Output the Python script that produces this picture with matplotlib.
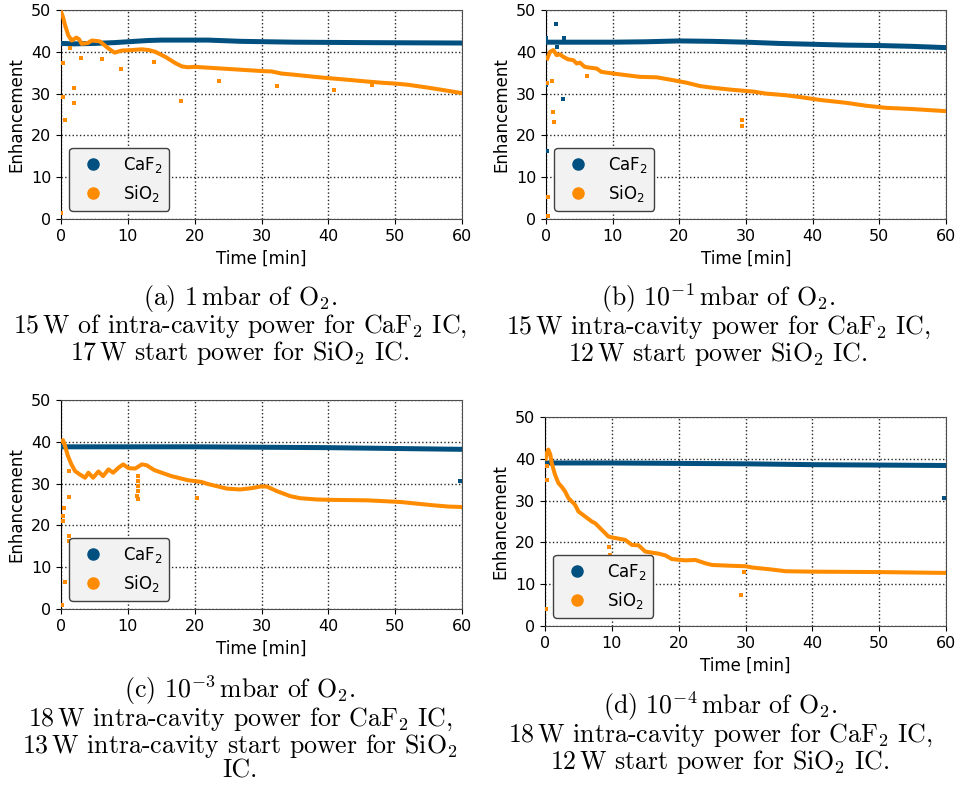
import matplotlib
matplotlib.use("Agg")
import matplotlib.pyplot as plt
from matplotlib.lines import Line2D

W, H = 958, 802
CAF2_COLOR = "#02507f"
SIO2_COLOR = "#ff8c00"

# --- (a) 1 mbar ---
a_caf2_t = [0, 2, 5, 8, 10, 13, 15, 18, 22, 27, 35, 45, 60]
a_caf2_y = [42.0, 41.9, 42.0, 42.2, 42.4, 42.7, 42.8, 42.8, 42.8, 42.5, 42.3, 42.2, 42.1]
a_caf2_out_t = []
a_caf2_out_y = []
a_sio2_t = [0.05, 0.3, 0.6, 1.1, 1.6, 2.3, 2.7, 3.1, 4.0, 4.6, 5.8, 7.1, 8.0, 9.1, 10.5,
            12.1, 13.2, 14.1, 15.6, 17.1, 18.1, 19.0, 20.0, 22.0, 25.0, 28.0, 30.0,
            31.5, 33.0, 35.0, 38.0, 40.0, 43.0, 45.0, 48.0, 50.0, 52.0, 55.0, 57.0, 60.0]
a_sio2_y = [49.4, 48.3, 46.4, 43.9, 42.7, 43.4, 43.0, 41.9, 42.1, 42.7, 42.5, 40.8, 39.8, 40.3, 40.4,
            40.6, 40.4, 40.0, 38.8, 37.3, 36.5, 36.3, 36.4, 36.2, 35.9, 35.6, 35.4,
            35.3, 34.8, 34.5, 34.0, 33.7, 33.3, 33.0, 32.6, 32.4, 32.1, 31.4, 30.9, 30.1]
a_sio2_out_t = [0.0, 0.25, 0.3, 0.55, 2.0, 2.0, 1.4, 3.0, 6.2, 9.0, 13.9, 18.0, 23.6, 32.3, 40.9, 46.5]
a_sio2_out_y = [1.4, 37.4, 29.3, 23.8, 31.3, 27.7, 40.8, 38.6, 38.3, 36.0, 37.5, 28.3, 32.9, 31.8, 30.8, 32.1]

# --- (b) 1e-1 mbar ---
b_caf2_t = [0, 5, 10, 15, 20, 25, 30, 35, 40, 45, 50, 55, 60]
b_caf2_y = [42.3, 42.3, 42.3, 42.4, 42.6, 42.5, 42.3, 42.0, 41.8, 41.6, 41.5, 41.3, 41.0]
b_caf2_out_t = [0.0, 0.0, 0.15, 1.55, 1.6, 2.55, 2.65]
b_caf2_out_y = [43.2, 32.1, 16.3, 46.7, 41.2, 28.8, 43.4]
b_sio2_t = [0.2, 0.6, 1.1, 1.6, 2.1, 2.6, 3.3, 4.1, 4.6, 5.1, 5.8, 6.6, 7.6, 8.3, 10.1,
            12.1, 14.1, 16.6, 19.1, 21.1, 23.1, 25.0, 28.0, 31.0, 33.0, 36.0, 38.0,
            41.0, 45.0, 48.0, 51.0, 55.0, 60.0]
b_sio2_y = [38.4, 40.0, 40.4, 39.2, 39.4, 38.8, 38.2, 38.0, 37.2, 37.4, 36.4, 36.2, 36.0, 35.2, 34.8,
            34.4, 34.0, 33.9, 33.2, 32.6, 31.8, 31.4, 30.9, 30.5, 30.0, 29.6, 29.2,
            28.5, 27.8, 27.1, 26.6, 26.3, 25.8]
b_sio2_out_t = [0.15, 0.25, 0.2, 0.35, 0.9, 1.05, 1.25, 6.1, 29.4, 29.4]
b_sio2_out_y = [32.6, 5.3, 0.8, 0.7, 33.0, 25.5, 23.2, 34.2, 23.7, 22.2]

# --- (c) 1e-3 mbar ---
c_caf2_t = [0, 10, 20, 30, 40, 50, 60]
c_caf2_y = [38.8, 38.8, 38.8, 38.7, 38.6, 38.4, 38.2]
c_caf2_out_t = [59.7]
c_caf2_out_y = [30.6]
c_sio2_t = [0.1, 0.3, 0.6, 1.0, 1.5, 2.1, 2.8, 3.6, 4.1, 4.8, 5.6, 6.3, 7.1, 7.8, 8.6,
            9.3, 10.1, 11.1, 12.1, 12.8, 14.0, 16.5, 19.0, 21.0, 22.0, 24.8, 26.8,
            28.5, 29.8, 30.8, 32.3, 34.3, 35.8, 38.3, 40.8, 45.8, 48.3, 50.8, 53.3,
            55.8, 58.0, 60.0]
c_sio2_y = [40.2, 40.4, 39.0, 36.8, 34.8, 33.0, 32.2, 31.4, 32.6, 31.4, 32.9, 31.8, 33.4, 32.6, 33.8,
            34.6, 33.7, 33.6, 34.6, 34.4, 33.2, 31.8, 30.8, 30.4, 29.9, 28.8, 28.6,
            28.9, 29.3, 29.3, 28.2, 27.0, 26.5, 26.2, 26.1, 26.0, 25.8, 25.6, 25.2,
            24.8, 24.5, 24.4]
c_sio2_out_t = [0.15, 0.25, 0.3, 0.4, 0.55, 1.15, 1.15, 1.2, 1.15,
                11.5, 11.5, 11.5, 11.5, 11.4, 11.5, 20.3]
c_sio2_out_y = [1.0, 22.2, 21.0, 24.2, 6.4, 26.8, 17.4, 16.2, 33.0,
                31.8, 30.6, 29.4, 28.2, 27.0, 26.2, 26.6]

# --- (d) 1e-4 mbar ---
d_caf2_t = [0, 10, 20, 30, 40, 50, 60]
d_caf2_y = [39.0, 39.0, 38.9, 38.8, 38.6, 38.5, 38.4]
d_caf2_out_t = [59.7]
d_caf2_out_y = [30.7]
d_sio2_t = [0.1, 0.3, 0.5, 0.8, 1.0, 1.5, 2.0, 2.5, 3.0, 3.5, 4.5, 5.0, 6.0, 7.0, 7.5,
            8.5, 9.5, 10.0, 11.0, 12.0, 13.0, 14.0, 15.0, 17.0, 18.0, 19.0, 21.0,
            22.5, 24.0, 25.0, 28.0, 30.0, 31.0, 34.0, 36.0, 40.0, 50.0, 60.0]
d_sio2_y = [40.0, 41.5, 42.2, 41.0, 39.0, 36.2, 34.2, 33.3, 32.2, 30.6, 29.0, 27.4, 26.2, 25.0, 24.6,
            23.0, 21.4, 21.2, 20.9, 20.6, 19.4, 19.3, 17.8, 17.3, 16.9, 16.0, 15.7,
            15.8, 15.0, 14.6, 14.4, 14.3, 14.0, 13.5, 13.1, 13.0, 12.9, 12.7]
d_sio2_out_t = [0.15, 0.25, 0.25, 9.6, 9.7, 29.3, 29.8]
d_sio2_out_y = [4.1, 35.0, 38.2, 18.8, 17.0, 7.4, 13.0]

captions = {
    "a": ["(a) 1$\\,$mbar of $\\mathrm{O}_2$.",
          "15$\\,$W of intra-cavity power for $\\mathrm{CaF}_2$ IC,",
          "17$\\,$W start power for $\\mathrm{SiO}_2$ IC."],
    "b": ["(b) $10^{-1}\\,$mbar of $\\mathrm{O}_2$.",
          "15$\\,$W intra-cavity power for $\\mathrm{CaF}_2$ IC,",
          "12$\\,$W start power $\\mathrm{SiO}_2$ IC."],
    "c": ["(c) $10^{-3}\\,$mbar of $\\mathrm{O}_2$.",
          "18$\\,$W intra-cavity power for $\\mathrm{CaF}_2$ IC,",
          "13$\\,$W intra-cavity start power for $\\mathrm{SiO}_2$",
          "IC."],
    "d": ["(d) $10^{-4}\\,$mbar of $\\mathrm{O}_2$.",
          "18$\\,$W intra-cavity power for $\\mathrm{CaF}_2$ IC,",
          "12$\\,$W start power for $\\mathrm{SiO}_2$ IC."],
}


def px_rect(left, top, right, bottom):
    return [left / W, 1 - bottom / H, (right - left) / W, (bottom - top) / H]


def draw_panel(fig, rect, caf2, caf2_out, sio2, sio2_out):
    ax = fig.add_axes(rect)
    ax.plot(*caf2, color=CAF2_COLOR, lw=3.6, zorder=3)
    ax.scatter(*caf2_out, color=CAF2_COLOR, s=6, marker="s", lw=0, zorder=3)
    ax.plot(*sio2, color=SIO2_COLOR, lw=2.9, zorder=4)
    ax.scatter(*sio2_out, color=SIO2_COLOR, s=6, marker="s", lw=0, zorder=4)

    ax.set_xlim(0, 60)
    ax.set_ylim(0, 50)
    ax.set_xticks(range(0, 61, 10))
    ax.set_yticks(range(0, 51, 10))
    ax.tick_params(labelsize=11.5)
    ax.grid(True, color="0.15", linestyle=":", linewidth=1)
    for sp in ax.spines.values():
        sp.set_color("0.3")
    ax.spines["left"].set_color("k")
    ax.set_xlabel("Time [min]", fontsize=12)
    ax.set_ylabel("Enhancement", fontsize=12)

    handles = [
        Line2D([], [], marker="o", ls="", color=CAF2_COLOR, markersize=8, label="CaF$_2$"),
        Line2D([], [], marker="o", ls="", color=SIO2_COLOR, markersize=8, label="SiO$_2$"),
    ]
    leg = ax.legend(handles=handles, loc="lower left", fontsize=12, framealpha=1,
                    facecolor="#f2f2f2", edgecolor="0.25")
    leg.set_zorder(10)
    return ax


def caption(fig, x, y_mid, lines):
    # one multi-line text per caption, centred on y_mid
    fig.text(x / W, 1 - y_mid / H, "\n".join(lines), ha="center", va="center",
             multialignment="center", linespacing=0.95,
             fontsize=18.6, family="cmr10", math_fontfamily="cm")


def main():
    fig = plt.figure(figsize=(W / 100, H / 100), dpi=100)

    draw_panel(fig, px_rect(61, 10, 462, 219),
               (a_caf2_t, a_caf2_y), (a_caf2_out_t, a_caf2_out_y),
               (a_sio2_t, a_sio2_y), (a_sio2_out_t, a_sio2_out_y))
    draw_panel(fig, px_rect(546, 10, 946, 219),
               (b_caf2_t, b_caf2_y), (b_caf2_out_t, b_caf2_out_y),
               (b_sio2_t, b_sio2_y), (b_sio2_out_t, b_sio2_out_y))
    draw_panel(fig, px_rect(61, 400, 462, 609),
               (c_caf2_t, c_caf2_y), (c_caf2_out_t, c_caf2_out_y),
               (c_sio2_t, c_sio2_y), (c_sio2_out_t, c_sio2_out_y))
    draw_panel(fig, px_rect(545, 417, 946, 626),
               (d_caf2_t, d_caf2_y), (d_caf2_out_t, d_caf2_out_y),
               (d_sio2_t, d_sio2_y), (d_sio2_out_t, d_sio2_out_y))

    caption(fig, 240, 325, captions["a"])
    caption(fig, 718, 325, captions["b"])
    caption(fig, 240, 728, captions["c"])
    caption(fig, 720, 733, captions["d"])

    fig.savefig("out.png", dpi=100)


if __name__ == "__main__":
    main()
